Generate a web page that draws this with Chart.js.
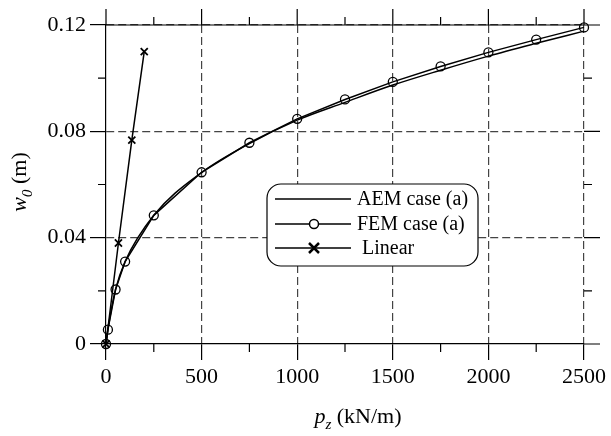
<!DOCTYPE html>
<html>
<head>
<meta charset="utf-8">
<script src="https://cdn.jsdelivr.net/npm/chart.js@4"></script>
<style>
  body { margin: 0; background: #fff; }
  #wrap { width: 611px; height: 436px; }
</style>
</head>
<body>
<div id="wrap"><canvas id="w0_chart"></canvas></div>
<script>
// 하중 - 중앙 처짐 데이터
const loads = [0, 10, 50, 100, 250, 500, 750, 1000, 1250, 1500, 1750, 2000, 2250, 2500];
const aemW = [0, 0.0054, 0.0205, 0.031, 0.0484, 0.0645, 0.0754, 0.0842, 0.0909, 0.0974, 0.1030, 0.1083, 0.1131, 0.1177];
const femW = [0, 0.0054, 0.0205, 0.031, 0.0484, 0.0646, 0.0757, 0.0847, 0.0920, 0.0986, 0.1044, 0.1097, 0.1145, 0.1191];
const linLoads = [0, 65, 135, 200];
const linW = [0, 0.038, 0.0767, 0.11];

// 눈금
const xMajor = [0, 500, 1000, 1500, 2000, 2500];
const xMinor = [250, 750, 1250, 1750, 2250];
const yMajor = [0, 0.04, 0.08, 0.12];
const yMinor = [0.02, 0.06, 0.10];

const serif = "'Liberation Serif', 'DejaVu Serif', serif";

function toPoints(xs, ys){
  return xs.map(function(x, i){ return {x: x, y: ys[i]}; });
}

// 위/오른쪽 테두리, 보조 눈금
const framePlugin = {
  id: 'frame',
  afterDraw(chart){
    const ctx = chart.ctx, a = chart.chartArea;
    const xs = chart.scales.x, ys = chart.scales.y;
    ctx.save();
    ctx.strokeStyle = '#000';
    ctx.lineWidth = 1.2;
    ctx.beginPath();
    ctx.moveTo(a.left, a.top); ctx.lineTo(a.right + 16, a.top);
    ctx.moveTo(a.right, a.bottom); ctx.lineTo(a.right + 16, a.bottom);
    xMajor.forEach(function(v){
      let p = xs.getPixelForValue(v);
      ctx.moveTo(p, a.top); ctx.lineTo(p, a.top - 16);
    });
    xMinor.forEach(function(v){
      let p = xs.getPixelForValue(v);
      ctx.moveTo(p, a.top); ctx.lineTo(p, a.top - 8);
      ctx.moveTo(p, a.bottom); ctx.lineTo(p, a.bottom + 8);
    });
    yMajor.forEach(function(v){
      let p = ys.getPixelForValue(v);
      ctx.moveTo(a.right, p); ctx.lineTo(a.right + 16, p);
    });
    yMinor.forEach(function(v){
      let p = ys.getPixelForValue(v);
      ctx.moveTo(a.left, p); ctx.lineTo(a.left - 8, p);
      ctx.moveTo(a.right, p); ctx.lineTo(a.right + 8, p);
    });
    ctx.stroke();
    ctx.restore();
  }
};

// 범례 (둥근 상자)
const legendPlugin = {
  id: 'boxLegend',
  afterDraw(chart){
    const ctx = chart.ctx;
    const sets = chart.data.datasets;
    const bx = 267, by = 184, bw = 211, bh = 82;
    ctx.save();
    ctx.fillStyle = '#fff';
    ctx.strokeStyle = '#000';
    ctx.lineWidth = 1.2;
    ctx.beginPath();
    ctx.roundRect(bx, by, bw, bh, 14);
    ctx.fill();
    ctx.stroke();
    const rows = [199, 224, 248];
    const textX = [357, 357, 362];
    ctx.font = '20px ' + serif;
    ctx.textBaseline = 'middle';
    ctx.fillStyle = '#000';
    sets.forEach(function(ds, i){
      let y = rows[i];
      ctx.lineWidth = 1.5;
      ctx.beginPath();
      ctx.moveTo(275, y); ctx.lineTo(351, y);
      ctx.stroke();
      if (ds.pointStyle === 'circle' && ds.pointRadius > 0){
        ctx.beginPath();
        ctx.arc(314, y, 4.5, 0, Math.PI * 2);
        ctx.fillStyle = '#fff';
        ctx.fill();
        ctx.stroke();
        ctx.fillStyle = '#000';
      } else if (ds.pointStyle === 'crossRot'){
        ctx.lineWidth = 2.5;
        ctx.beginPath();
        ctx.moveTo(309, y - 5); ctx.lineTo(319, y + 5);
        ctx.moveTo(319, y - 5); ctx.lineTo(309, y + 5);
        ctx.stroke();
      }
      ctx.fillText(ds.label, textX[i], y + 1);
    });
    ctx.restore();
  }
};

// 축 제목 (아래첨자)
function drawSubTitle(ctx, main, sub, rest, size){
  const fMain = 'italic ' + size + 'px ' + serif;
  const fSub = 'italic ' + Math.round(size * 0.7) + 'px ' + serif;
  const fRest = size + 'px ' + serif;
  ctx.font = fMain; let w1 = ctx.measureText(main).width;
  ctx.font = fSub; let w2 = ctx.measureText(sub).width;
  ctx.font = fRest; let w3 = ctx.measureText(rest).width;
  let x = -(w1 + w2 + w3) / 2;
  ctx.textBaseline = 'alphabetic';
  ctx.font = fMain; ctx.fillText(main, x, 0); x += w1;
  ctx.font = fSub; ctx.fillText(sub, x, size * 0.28); x += w2;
  ctx.font = fRest; ctx.fillText(rest, x, 0);
}

const titlePlugin = {
  id: 'axisTitles',
  afterDraw(chart){
    const ctx = chart.ctx;
    ctx.save();
    ctx.fillStyle = '#000';
    ctx.translate(358, 423);
    drawSubTitle(ctx, 'p', 'z', ' (kN/m)', 22);
    ctx.restore();
    ctx.save();
    ctx.fillStyle = '#000';
    ctx.translate(26, 182);
    ctx.rotate(-Math.PI / 2);
    drawSubTitle(ctx, 'w', '0', ' (m)', 22);
    ctx.restore();
  }
};

let aemSet = {
  label: 'AEM case (a)',
  data: toPoints(loads, aemW),
  borderColor: '#000',
  borderWidth: 1.5,
  pointRadius: 0,
  pointStyle: false,
  cubicInterpolationMode: 'monotone',
  clip: false
};
let femSet = {
  label: 'FEM case (a)',
  data: toPoints(loads, femW),
  borderColor: '#000',
  borderWidth: 1.5,
  pointStyle: 'circle',
  pointRadius: 4.5,
  pointBorderWidth: 1.3,
  pointBorderColor: '#000',
  pointBackgroundColor: 'rgba(0,0,0,0)',
  tension: 0,
  clip: false
};
let linSet = {
  label: 'Linear',
  data: toPoints(linLoads, linW),
  borderColor: '#000',
  borderWidth: 1.5,
  pointStyle: 'crossRot',
  pointRadius: 5,
  pointBorderWidth: 1.8,
  pointBorderColor: '#000',
  tension: 0,
  clip: false
};

const gridColor = function(c){
  return (c.tick && c.tick.value === 0) ? 'rgba(0,0,0,0)' : '#444';
};

const w0Chart = new Chart(document.getElementById('w0_chart'), {
  type: 'line',
  data: { datasets: [aemSet, femSet, linSet] },
  options: {
    responsive: true,
    maintainAspectRatio: false,
    animation: false,
    events: [],
    layout: { padding: { top: 25, right: 27, left: 0, bottom: 0 } },
    plugins: {
      legend: { display: false },
      tooltip: { enabled: false }
    },
    scales: {
      x: {
        type: 'linear',
        min: 0,
        max: 2500,
        afterFit: function(s){ s.height = 92; },
        afterBuildTicks: function(s){ s.ticks = xMajor.map(function(v){ return {value: v}; }); },
        ticks: {
          autoSkip: false,
          maxRotation: 0,
          padding: 4,
          color: '#000',
          font: { family: serif, size: 22 },
          callback: function(v){ return String(v); }
        },
        grid: {
          color: gridColor,
          lineWidth: 1.2,
          drawTicks: true,
          tickLength: 16,
          tickColor: '#000',
          tickWidth: 1.2
        },
        border: { display: true, color: '#000', width: 1.2, dash: [8, 4] }
      },
      y: {
        type: 'linear',
        min: 0,
        max: 0.12,
        afterFit: function(s){ s.width = 106; },
        afterBuildTicks: function(s){ s.ticks = yMajor.map(function(v){ return {value: v}; }); },
        ticks: {
          autoSkip: false,
          padding: 4,
          color: '#000',
          font: { family: serif, size: 22 },
          callback: function(v){ return v === 0 ? '0' : v.toFixed(2); }
        },
        grid: {
          color: gridColor,
          lineWidth: 1.2,
          drawTicks: true,
          tickLength: 16,
          tickColor: '#000',
          tickWidth: 1.2
        },
        border: { display: true, color: '#000', width: 1.2, dash: [8, 4] }
      }
    }
  },
  plugins: [framePlugin, legendPlugin, titlePlugin]
});
</script>
</body>
</html>
